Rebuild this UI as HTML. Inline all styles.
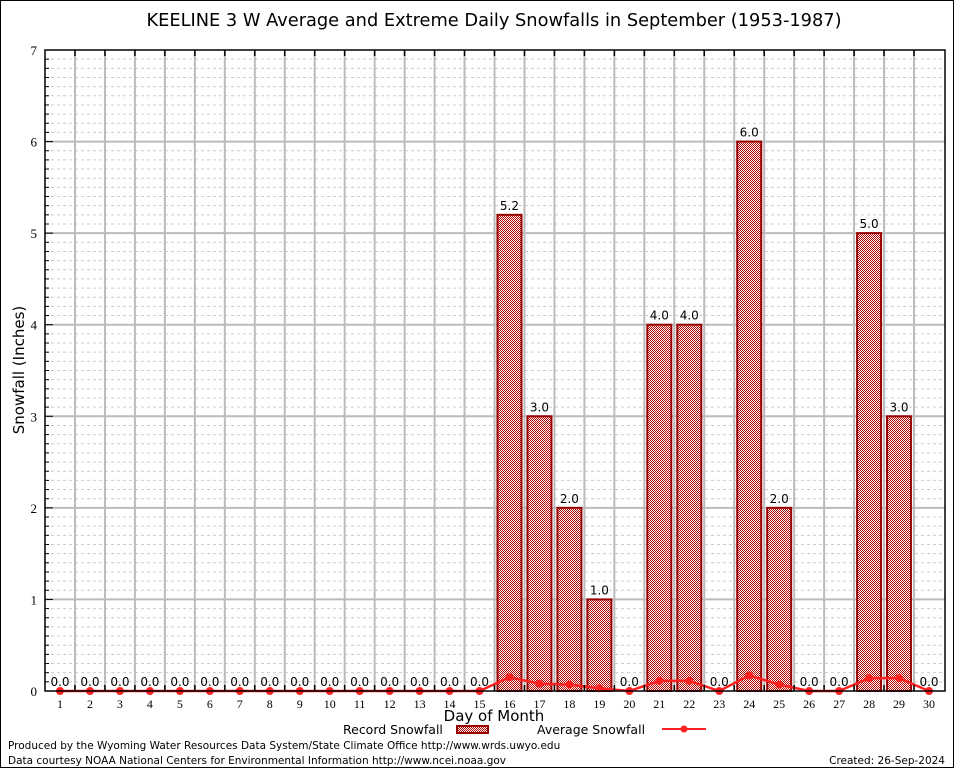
<!DOCTYPE html>
<html><head><meta charset="utf-8"><style>
html,body{margin:0;padding:0;background:#fff}
svg{display:block;font-family:"DejaVu Sans","Liberation Sans",sans-serif}
</style></head><body>
<svg id="chart" width="954" height="768" viewBox="0 0 954 768">
<defs>
<pattern id="chk" width="2" height="2" patternUnits="userSpaceOnUse">
<rect width="2" height="2" fill="#fff"/><rect width="1" height="1" fill="#b00000"/><rect x="1" y="1" width="1" height="1" fill="#b00000"/>
</pattern>
</defs>
<rect x="0.5" y="0.5" width="953" height="767" fill="#fff" stroke="#000"/>
<text x="494" y="26" font-size="17.8" text-anchor="middle">KEELINE 3 W Average and Extreme Daily Snowfalls in September (1953-1987)</text>
<g id="grid"></g>
<g id="bars"></g>
<g id="line"></g>
<rect x="45" y="50" width="900" height="641" fill="none" stroke="#000" stroke-width="1.5"/>
<g id="axes"></g>
<text x="24" y="370" font-size="15" text-anchor="middle" transform="rotate(-90 24 370)">Snowfall (Inches)</text>
<text x="494" y="721" font-size="15" text-anchor="middle">Day of Month</text>
<g>
<text x="343" y="734" font-size="12.5">Record Snowfall</text>
<rect x="457" y="726" width="31" height="7" fill="url(#chk)" stroke="#990000" stroke-width="2"/>
</g>
<g>
<text x="537" y="734" font-size="12.5">Average Snowfall</text>
<line x1="662" y1="729" x2="706" y2="729" stroke="#ff2020" stroke-width="2"/>
<circle cx="684" cy="729" r="3.5" fill="#ff2020"/>
</g>
<text x="8" y="749" font-size="10.5">Produced by the Wyoming Water Resources Data System/State Climate Office http://www.wrds.uwyo.edu</text>
<text x="8" y="764" font-size="10.5">Data courtesy NOAA National Centers for Environmental Information http://www.ncei.noaa.gov</text>
<text x="945" y="764" font-size="10.5" text-anchor="end">Created: 26-Sep-2024</text>
</svg>
<script>
const days = [1,2,3,4,5,6,7,8,9,10,11,12,13,14,15,16,17,18,19,20,21,22,23,24,25,26,27,28,29,30];
const recordSnow = [0,0,0,0,0,0,0,0,0,0,0,0,0,0,0,5.2,3.0,2.0,1.0,0,4.0,4.0,0,6.0,2.0,0,0,5.0,3.0,0];
const avgSnow = [0,0,0,0,0,0,0,0,0,0,0,0,0,0,0,0.15,0.08,0.07,0.03,0,0.11,0.11,0,0.17,0.07,0,0,0.14,0.14,0];
const yTicks = [0,1,2,3,4,5,6,7];

const NS="http://www.w3.org/2000/svg";
const L=45,R=945,T=50,B=691,YMAX=7;
const x=d=>60+(d-1)*(869/29);
const y=v=>B-(v/YMAX)*(B-T);
function mk(tag,attrs,parent){const e=document.createElementNS(NS,tag);for(const k in attrs)e.setAttribute(k,attrs[k]);parent.appendChild(e);return e;}
const grid=document.getElementById('grid'),bars=document.getElementById('bars'),line=document.getElementById('line'),axes=document.getElementById('axes');
for(let v=0.1;v<YMAX-0.01;v+=0.1){
  const major=Math.abs(v-Math.round(v))<0.01;
  const g=mk('line',{x1:L,x2:R,y1:y(v),y2:y(v),stroke:major?'#bbb':'#ccc','stroke-width':major?2:1,'stroke-dasharray':major?'':'3,3'},grid);
  
  
  const t=mk('line',{x1:L,x2:L+(major?8:4),y1:y(v),y2:y(v),stroke:'#000'},axes);
  
  
}
for(let i=1;i<days.length;i++){
  const xv=(x(days[i-1])+x(days[i]))/2;
  const g=mk('line',{x1:xv,x2:xv,y1:T,y2:B,stroke:'#bbb','stroke-width':2},grid);
  
  
  const t1=mk('line',{x1:xv,x2:xv,y1:T,y2:T+6,stroke:'#000','stroke-width':1.5},axes);
  
  
  const t2=mk('line',{x1:xv,x2:xv,y1:B,y2:B-6,stroke:'#000','stroke-width':1.5},axes);
  
  
}
yTicks.forEach(v=>{
  const t=mk('text',{x:L-8,y:y(v)+5,'font-size':13,'text-anchor':'end','font-family':'"Liberation Serif",serif'},axes);
  t.textContent=v;
  
  
});
days.forEach((d,i)=>{
  const cx=x(d),v=recordSnow[i];
  if(v>0){
    const r=mk('rect',{x:cx-12,y:y(v),width:24,height:B-y(v),fill:'url(#chk)',stroke:'#990000','stroke-width':2},bars);
    
    
  }
  const lb=mk('text',{x:cx,y:y(v)-5,'font-size':12,'text-anchor':'middle'},bars);
  lb.textContent=v.toFixed(1);
  
  
  const xl=mk('text',{x:cx,y:B+17,'font-size':12,'text-anchor':'middle','font-family':'"Liberation Serif",serif'},axes);
  xl.textContent=d;
  
  
});
const pl=mk('polyline',{points:days.map((d,i)=>x(d)+','+y(avgSnow[i])).join(' '),fill:'none',stroke:'#ff2020','stroke-width':2.5},line);


days.forEach((d,i)=>{
  const c=mk('circle',{cx:x(d),cy:y(avgSnow[i]),r:4,fill:'#ff2020'},line);
  
  
});
</script>
</body></html>
